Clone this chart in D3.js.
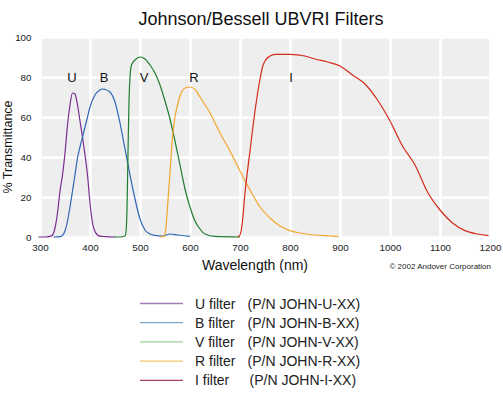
<!DOCTYPE html>
<html>
<head>
<meta charset="utf-8">
<script src="https://d3js.org/d3.v7.min.js"></script>
<style>
  body { margin: 0; background: #fff; }
  svg { display: block; font-family: 'Liberation Sans', Arial, sans-serif; }
  .tick text { fill: #222; font-size: 9.8px; }
</style>
</head>
<body>
<div id="chart"></div>
<script>
// filter curves (nm, % transmittance)
const uNm  = [297,310,320,325,330,335,340,345,350,355,360,365,370,375,380,385,390,395,400,405,410,415,420,430,450];
const uPct = [0,0,0.3,1,4.5,12,23,31,42,56,66,72,71.5,66,58,50,41,31,17,7,2.7,1,0.4,0.2,0];

const bNm  = [327,340,345,350,355,360,365,370,375,380,385,390,395,400,410,420,425,430,440,450,460,470,480,490,500,510,520,530,545,560,575,600];
const bPct = [0,0.2,0.8,3,8,15,23,31,39.5,45,50,55,60,65,71,73.5,74,73.8,72.5,67.5,57,44,31,19,9,3.5,1.5,0.8,0.5,1.5,1,0.3];

const vNm  = [448,460,470,472,474,476,478,480,483,490,500,510,520,530,540,550,560,570,580,590,600,610,620,630,650,700];
const vPct = [0,0,0.5,2.5,14,42,68,80,86,88.5,90,89,86,82,76,68,59,48,36,24,15,8,4,1.5,0.3,0];

const rNm  = [540,548,552,555,560,565,570,575,580,590,600,610,620,640,660,680,700,720,740,760,780,800,820,850,880,897];
const rPct = [0,0.3,5,15,32,50,60,66,70.5,74.5,75,73.8,70,62,52,43,33,23.5,15,9.5,5.5,3.2,2,1,0.5,0.2];

const iNm  = [695,700,705,710,720,730,740,745,750,760,770,800,830,850,875,900,925,950,975,1000,1025,1050,1075,1100,1125,1150,1175,1197];
const iPct = [0,1,8,22,43,63,79,85,88,90.5,91.3,91.3,90.5,89,87.5,85.5,81,76.5,68.5,58,45.5,36,22.5,13.5,7,3.2,1.5,0.7];

const filterNames = ['U', 'B', 'V', 'R', 'I'];
const filterLabels = ['U filter', 'B filter', 'V filter', 'R filter', 'I filter'];
const partNumbers = ['(P/N JOHN-U-XX)', '(P/N JOHN-B-XX)', '(P/N JOHN-V-XX)', '(P/N JOHN-R-XX)', '(P/N JOHN-I-XX)'];
const curveColors = ['#7b2d8f', '#2f66b6', '#1e7d32', '#f2a52c', '#d32c1a'];
const legendColors = ['#a57cb6', '#7ea4c6', '#9ccf97', '#f5c56a', '#a6416d'];
// where the letters sit above each curve
const letterNm = [364, 428, 508, 608, 802];
const letterPct = [80, 80, 80, 80, 80];

const xTicks = [300,400,500,600,700,800,900,1000,1100,1200];
const yTicks = [0,20,40,60,80,100];

const series = [
  d3.zip(uNm, uPct), d3.zip(bNm, bPct), d3.zip(vNm, vPct),
  d3.zip(rNm, rPct), d3.zip(iNm, iPct)
];

const w = 503, h = 394;
const plotL = 40, plotR = 490, plotT = 37, plotB = 237;

const x = d3.scaleLinear().domain([300, 1200]).range([plotL, plotR]);
const y = d3.scaleLinear().domain([0, 100]).range([plotB, plotT]);

const svg = d3.select('#chart').append('svg')
  .attr('width', w)
  .attr('height', h);

svg.append('rect')
  .attr('width', w).attr('height', h).attr('fill', '#fff');

svg.append('text')
  .attr('x', 261).attr('y', 25)
  .attr('text-anchor', 'middle')
  .style('font-size', '18px')
  .attr('fill', '#111')
  .text('Johnson/Bessell UBVRI Filters');

// plot background + white grid
svg.append('rect')
  .attr('x', plotL).attr('y', plotT)
  .attr('width', plotR - plotL).attr('height', plotB - plotT)
  .attr('fill', '#eeeeee');

svg.append('g')
  .attr('transform', 'translate(0,' + plotB + ')')
  .call(d3.axisBottom(x).tickValues(xTicks).tickSize(-(plotB - plotT)).tickFormat(''))
  .call(g => g.select('.domain').remove())
  .call(g => g.selectAll('line').attr('stroke', '#fff').attr('stroke-width', 2.5));

svg.append('g')
  .attr('transform', 'translate(' + plotL + ',0)')
  .call(d3.axisLeft(y).tickValues(yTicks).tickSize(-(plotR - plotL)).tickFormat(''))
  .call(g => g.select('.domain').remove())
  .call(g => g.selectAll('line').attr('stroke', '#fff').attr('stroke-width', 2.5));

// tick labels
svg.append('g')
  .attr('transform', 'translate(0,' + plotB + ')')
  .call(d3.axisBottom(x).tickValues(xTicks).tickSize(0).tickPadding(7).tickFormat(d3.format('d')))
  .call(g => g.select('.domain').remove());

svg.append('g')
  .attr('transform', 'translate(' + plotL + ',0)')
  .call(d3.axisLeft(y).tickValues(yTicks).tickSize(0).tickPadding(8.5).tickFormat(d3.format('d')))
  .call(g => g.select('.domain').remove());

const line = d3.line()
  .x(d => x(d[0]))
  .y(d => y(d[1]))
  .curve(d3.curveMonotoneX);

svg.append('g')
  .selectAll('path')
  .data(series)
  .enter()
  .append('path')
  .attr('d', line)
  .attr('fill', 'none')
  .attr('stroke', (d, i) => curveColors[i])
  .attr('stroke-width', 1.2);

svg.selectAll('.letter')
  .data(filterNames)
  .enter()
  .append('text')
  .attr('class', 'letter')
  .attr('x', (d, i) => x(letterNm[i]))
  .attr('y', (d, i) => y(letterPct[i]) + 5)
  .attr('text-anchor', 'middle')
  .style('font-size', '13px')
  .attr('fill', '#111')
  .text(d => d);

svg.append('text')
  .attr('transform', 'translate(12,147) rotate(-90)')
  .attr('text-anchor', 'middle')
  .style('font-size', '12.5px')
  .attr('fill', '#111')
  .text('% Transmittance');

svg.append('text')
  .attr('x', 255).attr('y', 270)
  .attr('text-anchor', 'middle')
  .style('font-size', '14px')
  .attr('fill', '#111')
  .text('Wavelength (nm)');

svg.append('text')
  .attr('x', 491).attr('y', 269)
  .attr('text-anchor', 'end')
  .style('font-size', '8px')
  .attr('fill', '#222')
  .text('\u00a9 2002 Andover Corporation');

// legend
const legend = svg.append('g');
const rows = legend.selectAll('g')
  .data(filterLabels)
  .enter()
  .append('g')
  .attr('transform', (d, i) => 'translate(0,' + (303.5 + i * 19.2) + ')');

rows.append('line')
  .attr('x1', 140).attr('x2', 183)
  .attr('stroke', (d, i) => legendColors[i])
  .attr('stroke-width', 1.3);

rows.append('text')
  .attr('x', 195).attr('dy', '0.36em')
  .style('font-size', '14px')
  .attr('fill', '#222')
  .text(d => d);

rows.append('text')
  .attr('x', (d, i) => i === 4 ? 249.5 : 247.5).attr('dy', '0.36em')
  .style('font-size', '14px')
  .attr('fill', '#222')
  .text((d, i) => partNumbers[i]);
</script>
</body>
</html>
